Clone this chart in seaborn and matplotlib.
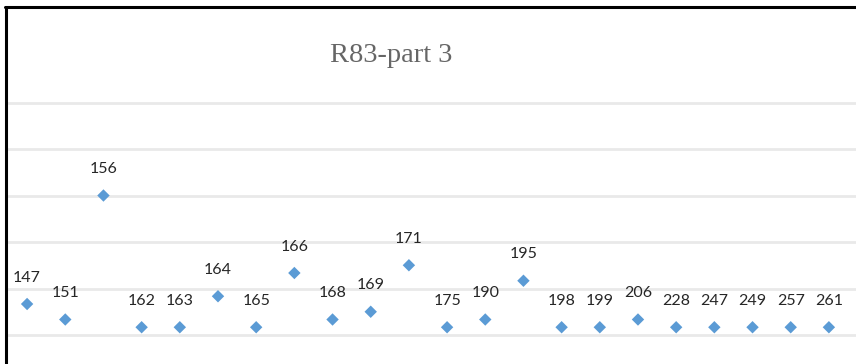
import matplotlib
matplotlib.use("Agg")
import matplotlib.pyplot as plt
from matplotlib.lines import Line2D
import seaborn as sns
import pandas as pd

# Data
labels = ["147", "151", "156", "162", "163", "164", "165", "166", "168", "169", "171",
          "175", "190", "195", "198", "199", "206", "228", "247", "249", "257", "261"]
positions = list(range(1, len(labels) + 1))
values = [4, 2, 18, 1, 1, 5, 1, 8, 2, 3, 9, 1, 2, 7, 1, 1, 2, 1, 1, 1, 1, 1]
grid_ticks = [0, 6, 12, 18, 24, 30]

df = pd.DataFrame({"pos": positions, "value": values, "label": labels})

sns.set_theme(style="white")
W, H = 856, 364
fig = plt.figure(figsize=(W / 100, H / 100), dpi=100)
# axes: y=0 at pixel 335, y=30 at pixel 102.5; x from pixel 8 to right edge
ax = fig.add_axes([8 / W, (H - 335) / H, 1 - 8 / W, (335 - 102.5) / H])

sns.scatterplot(data=df, x="pos", y="value", marker="D", s=40, color="#5b9bd5",
                edgecolor="none", ax=ax, zorder=3, clip_on=False)

for _, r in df.iterrows():
    ax.annotate(r["label"], (r["pos"], r["value"]), xytext=(0, 19), textcoords="offset points",
                ha="center", va="center", fontsize=11.5, family="Lato", color="#262626")

ax.set_xlim(0.5, 22.71)
ax.set_ylim(0, 30)
ax.set_yticks(grid_ticks)
ax.set_xticks([])
ax.yaxis.grid(True, color="#e9e9e9", linewidth=2)
for gl in ax.get_ygridlines():
    gl.set_clip_on(False)
ax.tick_params(left=False, labelleft=False)
ax.set_xlabel("")
ax.set_ylabel("")
for sp in ax.spines.values():
    sp.set_visible(False)

fig.text(391 / W, 1 - 55 / H, "R83-part 3", ha="center", va="center",
         fontsize=20.5, family="Liberation Serif", color="#666666")

# outer border (left and top visible)
fig.add_artist(Line2D([5.5 / W, 5.5 / W], [0, 1 - 7 / H], color="black", linewidth=2.2,
                      transform=fig.transFigure))
fig.add_artist(Line2D([4.5 / W, 1], [1 - 7 / H, 1 - 7 / H], color="black", linewidth=2.2,
                      transform=fig.transFigure))

fig.savefig("out.png", dpi=100)
